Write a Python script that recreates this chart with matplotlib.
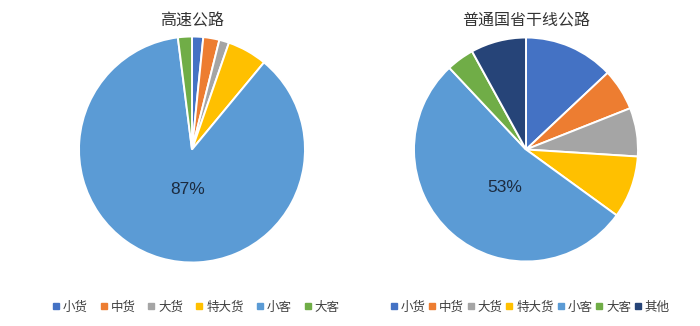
import matplotlib
matplotlib.use("Agg")
import matplotlib.pyplot as plt
from matplotlib.lines import Line2D

plt.rcParams['font.family'] = ['Noto Sans CJK SC', 'DejaVu Sans']

# Vehicle-type shares (%) for the two road classes
titles = ["高速公路", "普通国省干线公路"]
labels_left = ["小货", "中货", "大货", "特大货", "小客", "大客"]
values_left = [1.6, 2.3, 1.4, 5.7, 87.0, 2.0]
labels_right = ["小货", "中货", "大货", "特大货", "小客", "大客", "其他"]
values_right = [13, 6, 7, 9, 53, 4, 8]

palette = {
    "小货": "#4472C4", "中货": "#ED7D31", "大货": "#A5A5A5", "特大货": "#FFC000",
    "小客": "#5B9BD5", "大客": "#70AD47", "其他": "#264478",
}
highlight = "小客"

W, H = 700, 326
fig = plt.figure(figsize=(W / 100, H / 100), dpi=100)
fig.patch.set_facecolor("white")


def add_pie(cx, cy, r, labels, values, title, label_xy, legend_x, colspace):
    ax = fig.add_axes([(cx - r) / W, (H - cy - r) / H, 2 * r / W, 2 * r / H])
    colors = [palette[l] for l in labels]
    hi = labels.index(highlight)
    counter = iter(range(len(values)))

    def fmt(p):
        return f"{p:.0f}%" if next(counter) == hi else ""

    wedges, _, autotexts = ax.pie(
        values, colors=colors, startangle=90, counterclock=False,
        autopct=fmt, pctdistance=0.4,
        wedgeprops=dict(edgecolor="white", linewidth=1.4),
        textprops=dict(family=["Liberation Sans", "DejaVu Sans"],
                       fontsize=12.5, color="#1c2b3f"),
    )
    # nudge the share label inside the large wedge
    autotexts[hi].set_position(label_xy)
    ax.set_xlim(-1, 1)
    ax.set_ylim(-1, 1)
    ax.set_aspect("equal")
    ax.axis("off")
    fig.text(cx / W, (H - 21) / H, title, ha="center", va="center",
             fontsize=11.5, color="#333333")

    handles = [Line2D([], [], marker="s", linestyle="none", markersize=3.8,
                      markerfacecolor=palette[l], markeredgecolor=palette[l])
               for l in labels]
    fig.legend(handles, labels, loc="center", bbox_to_anchor=(legend_x / W, (H - 307) / H),
               ncol=len(labels), frameon=False, fontsize=9, handlelength=0.5,
               handletextpad=0.3, columnspacing=colspace, labelcolor="#404040",
               borderaxespad=0)
    return ax


add_pie(192, 149.5, 113, labels_left, values_left, titles[0], (-0.035, -0.35), 196, 1.03)
add_pie(526, 149.5, 112, labels_right, values_right, titles[1], (-0.19, -0.34), 530, 0.29)

fig.savefig("out.png", dpi=100, facecolor="white")
